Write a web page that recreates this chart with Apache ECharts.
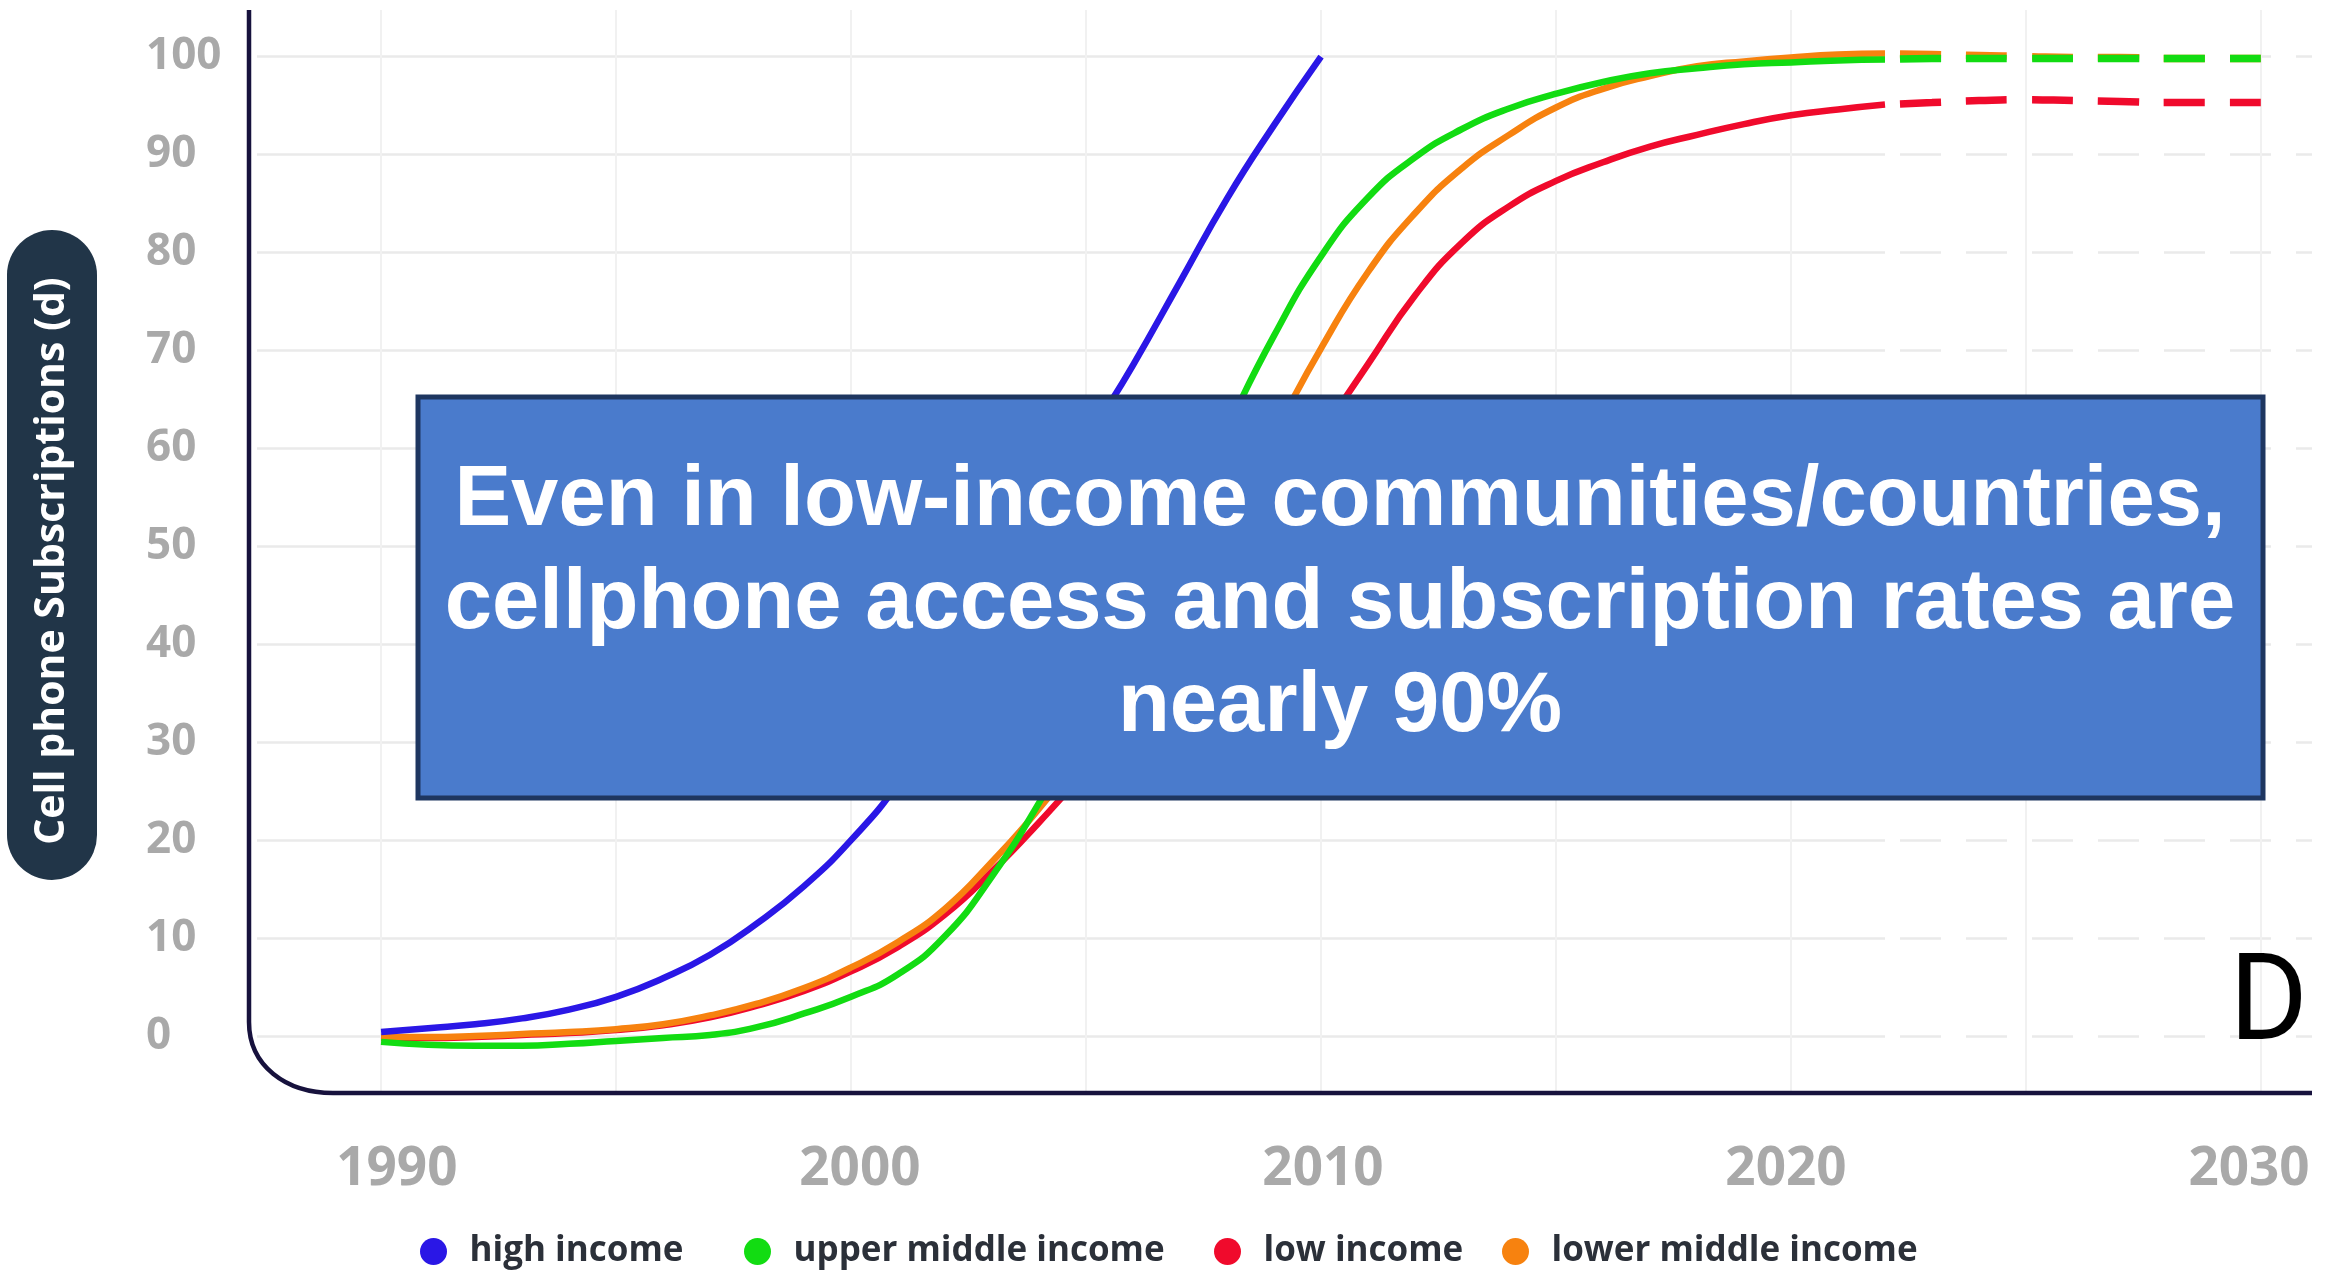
<!DOCTYPE html>
<html>
<head>
<meta charset="utf-8">
<title>Cell phone subscriptions by income group</title>
<script src="https://cdn.jsdelivr.net/npm/echarts@6/dist/echarts.min.js"></script>
<style>
  html, body { margin: 0; padding: 0; background: #ffffff; }
  #chart { width: 2331px; height: 1276px; }
</style>
</head>
<body>
<div id="chart"></div>
<script>
// ---- data -------------------------------------------------------------
// observed period, one value per year
const historyYears = [1990, 1991, 1992, 1993, 1994, 1995, 1996, 1997, 1998, 1999,
                      2000, 2001, 2002, 2003, 2004, 2005, 2006, 2007, 2008, 2009,
                      2010, 2011, 2012, 2013, 2014, 2015, 2016, 2017, 2018, 2019,
                      2020, 2021, 2022];
// high income stops at 2010 (first 21 years)
const highIncome = [0.4, 0.8, 1.2, 1.8, 2.7, 4.0, 5.9, 8.3, 11.5, 15.3,
                    20.0, 25.8, 33.5, 42.5, 51.5, 60.5, 68.5, 77.0, 85.5, 93.0,
                    100.0];
const upperMiddleIncome = [-0.6, -0.9, -1.0, -1.0, -0.8, -0.5, -0.2, 0.1, 0.9, 2.3,
                           4.0, 6.3, 10.2, 16.3, 23.8, 32.5, 42.0, 52.0, 62.0, 71.5,
                           79.6, 85.6, 89.7, 92.6, 94.7, 96.2, 97.4, 98.3, 98.8, 99.2,
                           99.4, 99.6, 99.7];
const lowerMiddleIncome = [-0.1, -0.1, 0.0, 0.2, 0.4, 0.7, 1.2, 2.1, 3.3, 4.9,
                           7.0, 9.6, 13.0, 17.8, 23.2, 29.5, 37.0, 45.0, 53.0, 61.5,
                           70.2, 78.0, 84.0, 88.6, 92.0, 94.8, 96.7, 98.0, 99.0, 99.5,
                           99.9, 100.2, 100.3];
const lowIncome = [-0.2, -0.2, -0.1, 0.1, 0.3, 0.6, 1.1, 1.9, 3.1, 4.6,
                   6.6, 9.1, 12.4, 16.8, 21.8, 27.2, 33.2, 40.0, 47.0, 54.5,
                   61.5, 68.6, 75.6, 81.0, 84.7, 87.3, 89.2, 90.8, 92.0, 93.1,
                   94.0, 94.6, 95.1];

// projected period (dashed)
const projectionYears = [2022, 2023, 2024, 2025, 2026, 2027, 2028, 2029, 2030];
const upperMiddleProjection = [99.7, 99.8, 99.8, 99.8, 99.8, 99.8, 99.8, 99.8, 99.8];
const lowerMiddleProjection = [100.3, 100.2, 100.1, 100.0, 99.9, 99.9, 99.8, 99.8, 99.8];
const lowProjection = [95.1, 95.3, 95.5, 95.6, 95.5, 95.4, 95.3, 95.3, 95.3];

// axis ticks and labels
const yearGridTicksHistory = [1990, 1995, 2000, 2005, 2010, 2015, 2020];
const yearGridTicksProjection = [2025, 2030];
const yearLabels = [1990, 2000, 2010, 2020, 2030];
const valueTicks = [0, 10, 20, 30, 40, 50, 60, 70, 80, 90, 100];

const legendNames = ['high income', 'upper middle income', 'low income', 'lower middle income'];
const axisTitle = 'Cell phone Subscriptions (d)';
const calloutLines = ['Even in low-income communities/countries,',
                      'cellphone access and subscription rates are',
                      'nearly 90%'];
const cornerLetter = 'D';

// ---- look -------------------------------------------------------------
const COLORS = {
  high: '#2a17e6',
  upper: '#12dc12',
  low: '#f00a2c',
  lower: '#f7820f'
};

// plot frame in pixels
const FRAME = { left: 257, right: 2312, top: 10, bottom: 1093, split: 1885 };
const YEAR_MIN = 1987.36, YEAR_SPLIT = 2022, YEAR_MAX = 2031.09;
// the year labels sit on their own, slightly tighter scale
const LABEL_YEAR_MIN = 1986.98, LABEL_YEAR_MAX = 2031.36;
const VALUE_MIN = -5.82, VALUE_MAX = 104.75;

const zip = (xs, ys) => ys.map((y, i) => [xs[i], y]);

const labelFont = 'Open Sans';
const solidWidth = 6.5;
const dashPattern = [41, 25];
const dashOffset = 51;

function solidSeries(name, values, color) {
  return {
    name, type: 'line', xAxisIndex: 0, yAxisIndex: 0,
    data: zip(historyYears, values),
    showSymbol: false, smooth: 0.5,
    lineStyle: { color, width: solidWidth, cap: 'butt' },
    itemStyle: { color },
    emphasis: { disabled: true }
  };
}
function dashedSeries(name, values, color) {
  return {
    name, type: 'line', xAxisIndex: 1, yAxisIndex: 1,
    data: zip(projectionYears, values),
    showSymbol: false, smooth: 0.5,
    lineStyle: { color, width: 7.5, type: dashPattern, dashOffset, cap: 'butt' },
    itemStyle: { color },
    emphasis: { disabled: true }
  };
}

const chart = echarts.init(document.getElementById('chart'), null, { renderer: 'canvas', width: 2331, height: 1276 });

const gridHeight = FRAME.bottom - FRAME.top;
const axisStroke = { stroke: '#17123d', lineWidth: 4.5, fill: null };

// one small legend per entry so each dot sits at its own spot along the bottom
const legendLefts = [415, 739, 1209, 1497];
const legends = legendNames.map((name, i) => ({
  data: [name],
  icon: 'circle',
  itemWidth: 62, itemHeight: 27,
  left: legendLefts[i], top: 1229,
  selectedMode: false,
  textStyle: { fontFamily: labelFont, fontSize: 35, fontWeight: 'bold', color: '#2b3039' }
}));

const option = {
  animation: false,
  backgroundColor: '#ffffff',
  grid: [
    { left: FRAME.left, top: FRAME.top, width: FRAME.split - FRAME.left, height: gridHeight },
    { left: FRAME.split, top: FRAME.top, width: FRAME.right - FRAME.split, height: gridHeight },
    { left: FRAME.left, top: FRAME.top, width: FRAME.right - FRAME.left, height: gridHeight }
  ],
  xAxis: [
    {
      type: 'value', gridIndex: 0, min: YEAR_MIN, max: YEAR_SPLIT,
      axisLine: { show: false },
      axisTick: { show: false, customValues: yearGridTicksHistory },
      axisLabel: { show: false },
      splitLine: { show: true, lineStyle: { color: '#f1f1f1', width: 2 } }
    },
    {
      type: 'value', gridIndex: 1, min: YEAR_SPLIT, max: YEAR_MAX,
      axisLine: { show: false },
      axisTick: { show: false, customValues: yearGridTicksProjection },
      axisLabel: { show: false },
      splitLine: { show: true, lineStyle: { color: '#f1f1f1', width: 2 } }
    },
    {
      type: 'value', gridIndex: 2, min: LABEL_YEAR_MIN, max: LABEL_YEAR_MAX,
      axisLine: { show: false },
      axisTick: { show: false, customValues: yearLabels },
      axisLabel: {
        customValues: yearLabels, formatter: v => String(v),
        fontFamily: labelFont, fontSize: 53, fontWeight: 'bold', color: '#a9a9a9', margin: 50
      },
      splitLine: { show: false }
    }
  ],
  yAxis: [
    {
      type: 'value', gridIndex: 0, min: VALUE_MIN, max: VALUE_MAX,
      axisLine: { show: false },
      axisTick: { show: false, customValues: valueTicks },
      axisLabel: {
        customValues: valueTicks, formatter: v => String(v), align: 'left', margin: 111,
        fontFamily: labelFont, fontSize: 44, fontWeight: 'bold', color: '#a9a9a9'
      },
      splitLine: { show: true, lineStyle: { color: '#eaeaea', width: 2.5 } }
    },
    {
      type: 'value', gridIndex: 1, min: VALUE_MIN, max: VALUE_MAX,
      axisLine: { show: false },
      axisTick: { show: false, customValues: valueTicks },
      axisLabel: { show: false },
      splitLine: { show: true, lineStyle: { color: '#eaeaea', width: 2.5, type: dashPattern, dashOffset } }
    },
    {
      type: 'value', gridIndex: 2, min: VALUE_MIN, max: VALUE_MAX,
      show: false
    }
  ],
  legend: legends,
  series: [
    solidSeries('low income', lowIncome, COLORS.low),
    solidSeries('lower middle income', lowerMiddleIncome, COLORS.lower),
    solidSeries('upper middle income', upperMiddleIncome, COLORS.upper),
    {
      name: 'high income', type: 'line', xAxisIndex: 0, yAxisIndex: 0,
      data: zip(historyYears, highIncome),
      showSymbol: false, smooth: 0.5,
      lineStyle: { color: COLORS.high, width: solidWidth, cap: 'butt' },
      itemStyle: { color: COLORS.high },
      emphasis: { disabled: true }
    },
    dashedSeries('low income', lowProjection, COLORS.low),
    dashedSeries('lower middle income', lowerMiddleProjection, COLORS.lower),
    dashedSeries('upper middle income', upperMiddleProjection, COLORS.upper)
  ],
  graphic: [
    // rounded L-shaped axis frame: vertical stroke, corner, horizontal stroke
    {
      type: 'line', z: 50, silent: true,
      shape: { x1: 249, y1: 10, x2: 249, y2: 1022 },
      style: axisStroke
    },
    {
      type: 'bezierCurve', z: 50, silent: true,
      shape: { x1: 249, y1: 1022, cpx1: 249, cpy1: 1066, cpx2: 286, cpy2: 1093, x2: 333, y2: 1093 },
      style: axisStroke
    },
    {
      type: 'line', z: 50, silent: true,
      shape: { x1: 333, y1: 1093, x2: FRAME.right, y2: 1093 },
      style: axisStroke
    },
    // axis title pill
    {
      type: 'rect', z: 50, silent: true,
      shape: { x: 7, y: 230, width: 90, height: 650, r: 45 },
      style: { fill: '#213548' }
    },
    {
      type: 'text', z: 51, silent: true,
      x: 52, y: 561, rotation: Math.PI / 2,
      style: {
        text: axisTitle, fill: '#ffffff',
        font: 'bold 41px "Open Sans"',
        align: 'center', verticalAlign: 'middle'
      }
    },
    // callout box
    {
      type: 'rect', z: 100, silent: true,
      shape: { x: 418, y: 397, width: 1845, height: 401 },
      style: { fill: '#4a7bcc', stroke: '#1e3660', lineWidth: 5 }
    },
    {
      type: 'text', z: 101, silent: true,
      x: 1340, y: 605,
      style: {
        text: calloutLines.join('\n'), fill: '#ffffff',
        font: 'bold 85px "Liberation Sans"',
        lineHeight: 103,
        align: 'center', verticalAlign: 'middle'
      }
    },
    // panel letter
    {
      type: 'text', z: 60, silent: true,
      x: 2308, y: 1009,
      style: {
        text: cornerLetter, fill: '#000000',
        font: '120px Roboto',
        align: 'right', verticalAlign: 'middle'
      }
    }
  ]
};

chart.setOption(option);
</script>
</body>
</html>
